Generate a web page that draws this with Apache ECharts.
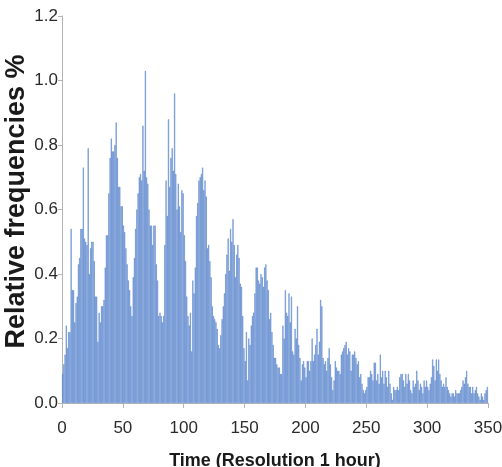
<!DOCTYPE html>
<html>
<head>
<meta charset="utf-8">
<script src="https://cdn.jsdelivr.net/npm/echarts@6/dist/echarts.min.js"></script>
<style>html,body{margin:0;padding:0;background:#fff}#c{width:502px;height:467px}</style>
</head>
<body>
<div id="c"></div>
<script>
// Relative frequency (%) per 1-hour bin, bins 0..349
const freq000 = [0.09,0.12,0.15,0.24,0.17,0.22,0.22,0.54,0.35,0.35,0.25,0.31,0.33,0.43,0.45,0.54,0.54,0.73,0.51,0.50,0.49,0.79,0.40,0.48,0.50,0.50,0.44,0.33,0.33,0.19,0.28,0.25,0.30];
const freq033 = [0.30,0.32,0.42,0.52,0.52,0.65,0.76,0.82,0.78,0.78,0.80,0.87,0.76,0.67,0.67,0.61,0.61,0.55,0.53,0.48,0.43,0.38,0.35,0.30,0.27,0.39,0.45,0.54,0.60,0.65,0.70,0.71,0.69,0.86,0.72,1.03,0.70,0.68,0.60];
const freq072 = [0.55,0.55,0.49,0.55,0.55,0.43,0.38,0.27,0.28,0.27,0.25,0.27,0.49,0.69,0.58,0.88,0.67,0.76,0.79,0.72,0.96,0.71,0.60,0.68,0.61,0.53,0.66,0.65,0.52,0.44,0.33,0.27,0.24,0.28,0.16];
const freq107 = [0.38,0.34,0.42,0.58,0.62,0.69,0.70,0.71,0.73,0.66,0.69,0.64,0.48,0.49,0.44,0.39,0.30,0.27,0.26,0.25,0.23,0.18,0.17,0.21,0.26,0.30,0.34,0.40,0.46,0.51,0.41,0.54,0.50,0.57,0.49,0.39,0.46];
const freq144 = [0.49,0.45,0.37,0.36,0.27,0.17,0.13,0.22,0.07,0.20,0.18,0.24,0.27,0.28,0.34,0.42,0.42,0.38,0.37,0.40,0.39,0.36,0.42,0.43,0.38,0.35,0.26,0.28,0.22,0.18,0.14,0.14,0.12,0.11,0.11,0.09];
const freq180 = [0.09,0.24,0.20,0.35,0.28,0.27,0.34,0.25,0.33,0.16,0.15,0.23,0.20,0.30,0.18,0.14,0.07,0.12,0.13,0.11,0.08,0.13,0.13,0.10,0.13,0.20,0.13,0.15,0.18,0.23,0.15,0.19,0.32,0.30,0.14];
const freq215 = [0.12,0.13,0.10,0.14,0.17,0.12,0.08,0.04,0.07,0.13,0.11,0.10,0.10,0.09,0.15,0.16,0.17,0.18,0.19,0.15,0.17,0.16,0.10,0.15,0.15,0.16,0.14,0.12,0.13,0.08,0.09,0.06,0.04,0.03,0.04,0.05,0.08];
const freq252 = [0.08,0.10,0.09,0.07,0.125,0.125,0.07,0.09,0.06,0.15,0.08,0.10,0.06,0.10,0.08,0.05,0.10,0.06,0.03,0.01,0.05,0.04,0.04,0.05,0.04,0.08,0.09,0.09,0.07,0.05,0.09,0.06,0.09,0.07,0.04,0.03,0.07];
const freq289 = [0.05,0.06,0.10,0.07,0.04,0.06,0.05,0.03,0.07,0.05,0.07,0.05,0.04,0.06,0.08,0.135,0.115,0.07,0.135,0.10,0.135,0.09,0.07,0.05,0.06,0.05,0.08,0.05,0.04,0.03,0.02,0.03,0.03,0.02,0.04,0.03];
const freq325 = [0.03,0.03,0.04,0.05,0.07,0.06,0.08,0.10,0.06,0.05,0.05,0.03,0.05,0.03,0.04,0.05,0.03,0.02,0.01,0.03,0.02,0.01,0.03,0.04,0.05];

const yTicks = [0, 0.2, 0.4, 0.6, 0.8, 1.0, 1.2];
const xTicks = [0, 50, 100, 150, 200, 250, 300, 350];

const freqs = [].concat(freq000, freq033, freq072, freq107, freq144, freq180, freq215, freq252, freq289, freq325);
const barData = freqs.map((v, i) => [i + 0.5, v]);

const chart = echarts.init(document.getElementById('c'), null, {renderer: 'canvas'});
const font = 'Liberation Sans, Arial, sans-serif';
chart.setOption({
  animation: false,
  backgroundColor: '#ffffff',
  grid: {left: 62, right: 14, top: 16, bottom: 64, containLabel: false, outerBoundsMode: 'none'},
  xAxis: {
    type: 'value',
    min: xTicks[0], max: xTicks[xTicks.length - 1], interval: 50,
    name: 'Time (Resolution 1 hour)',
    nameLocation: 'middle', nameGap: 49, nameMoveOverlap: false,
    nameTextStyle: {fontFamily: font, fontSize: 18, fontWeight: 'bold', color: '#1a1a1a'},
    axisLine: {show: true, lineStyle: {color: '#b4b4b4', width: 1}},
    axisTick: {show: true, length: 5, lineStyle: {color: '#b4b4b4'}},
    axisLabel: {fontFamily: font, fontSize: 17, color: '#2a2a2a', margin: 17},
    splitLine: {show: false}
  },
  yAxis: {
    type: 'value',
    min: yTicks[0], max: yTicks[yTicks.length - 1], interval: 0.2,
    name: 'Relative frequencies %',
    nameLocation: 'middle', nameGap: 32, nameMoveOverlap: false,
    nameTextStyle: {fontFamily: font, fontSize: 27, fontWeight: 'bold', color: '#1a1a1a', padding: [0, 0, 0, 16]},
    axisLine: {show: true, lineStyle: {color: '#b4b4b4', width: 1}},
    axisTick: {show: true, length: 4, lineStyle: {color: '#b4b4b4'}},
    axisLabel: {fontFamily: font, fontSize: 17, color: '#2a2a2a', margin: 4, formatter: v => v.toFixed(1)},
    splitLine: {show: false}
  },
  series: [{
    type: 'bar',
    data: barData,
    barWidth: 0.85,
    itemStyle: {color: '#a9c4ec', borderColor: '#3e70c2', borderWidth: 0.45},
    emphasis: {disabled: true}
  }]
});
</script>
</body>
</html>
